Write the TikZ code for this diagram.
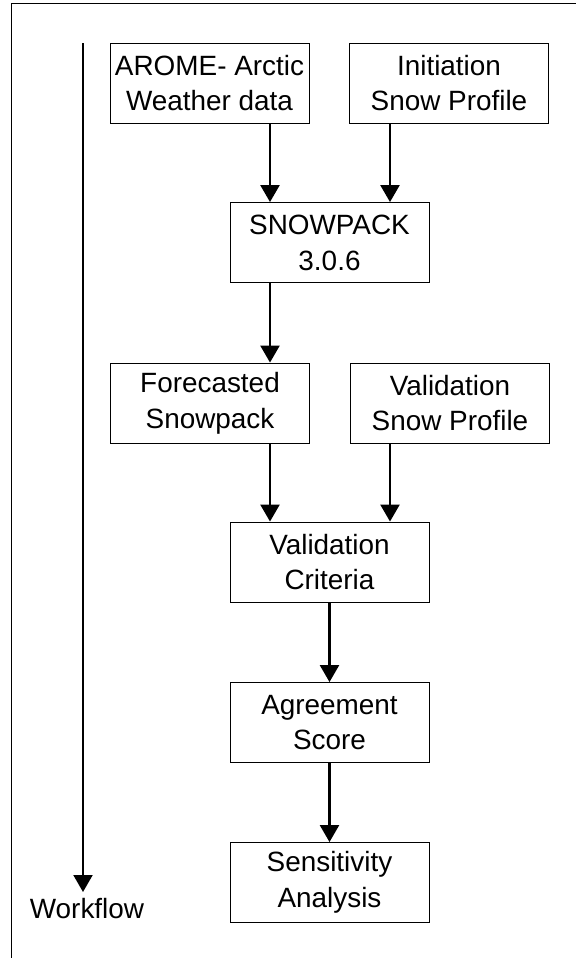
\documentclass[tikz,border=0pt]{standalone}
\usepackage{fontspec}
\setmainfont{Liberation Sans}
\usetikzlibrary{arrows.meta}

\begin{document}
\begin{tikzpicture}[x=1bp, y=-1bp,
                    box/.style={draw, line width=0.9bp, inner sep=0pt, align=center,
                                minimum width=199bp, minimum height=80bp,
                                font=\fontsize{28}{36}\selectfont},
                    flow/.style={line width=2.4bp, -{Triangle[width=19bp, length=17bp]}}]

                    \useasboundingbox (0,0) rectangle (576,958);
                    \draw[line width=1bp] (11,960) -- (11,3) -- (578,3);

                    \node[box] (arome) at (209.5,83) {AROME- Arctic\\Weather data};
                    \node[box] (init) at (449,83) {Initiation\\Snow Profile};
                    \node[box] (snow) at (329.5,242.5) {SNOWPACK\\3.0.6};
                    \node[box] (fcast) at (210,403) {Forecasted\\Snowpack};
                    \node[box] (valprof) at (450,403) {Validation\\Snow Profile};
                    \node[box] (crit) at (329.5,562) {Validation\\Criteria};
                    \node[box] (score) at (329.5,722.5) {Agreement\\Score};
                    \node[box] (sens) at (329.5,882.5) {Sensitivity\\Analysis};

                    \coordinate (left) at (270,0);
                    \coordinate (right) at (390,0);
                    \draw[flow] (arome.south -| left) -- (snow.north -| left);
                    \draw[flow] (init.south -| right) -- (snow.north -| right);
                    \draw[flow] (snow.south -| left) -- (fcast.north -| left);
                    \draw[flow] (fcast.south -| left) -- (crit.north -| left);
                    \draw[flow] (valprof.south -| right) -- (crit.north -| right);
                    \draw[flow] (crit.south) -- (score.north);
                    \draw[flow] (score.south) -- (sens.north);

                    \node[anchor=base, inner sep=0pt, font=\fontsize{28}{36}\selectfont]
                        (work) at (87,918) {Workflow};
                    \coordinate (wtop) at (83,43);
                    \coordinate (wend) at (83,892);
                    \draw[flow, line width=2bp] (wtop) -- (wend);
                \end{tikzpicture}
\end{document}
